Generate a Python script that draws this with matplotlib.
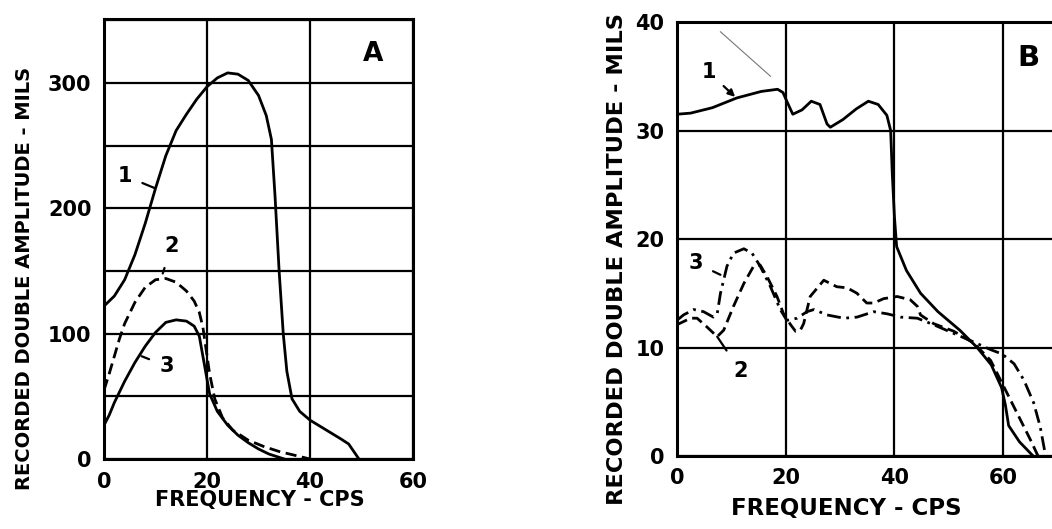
import matplotlib
matplotlib.use('Agg')
import matplotlib.pyplot as plt

# --- Panel A: amplitude (mils) vs frequency (cps) ---
a_freq_1 = [0, 2, 4, 6, 8, 10, 12, 14, 16, 18, 20, 22, 24, 26, 28, 30, 31.5, 32.5,
            33.2, 34, 34.8, 35.5, 36.5, 38, 40, 42, 44, 46, 47.5, 48.5, 49.5]
a_amp_1 = [122, 130, 143, 163, 188, 216, 242, 262, 275, 287, 297, 304, 308, 307, 302, 290, 274, 255,
           210, 150, 100, 70, 48, 38, 31, 26, 21, 16, 12, 6, 0]

a_freq_2 = [0, 1, 2, 3, 4, 6, 8, 10, 12, 14, 16, 17.5, 18.5, 19.2, 19.8, 20.5, 21.5,
            23, 25, 28, 31, 34, 37, 40]
a_amp_2 = [55, 68, 82, 96, 108, 125, 137, 143, 144, 141, 134, 126, 117, 105, 88, 68, 48,
           33, 23, 15, 10, 6, 3, 0]

a_freq_3 = [0, 1, 2, 4, 6, 8, 10, 12, 14, 16, 17.5, 18.5, 19.5, 20.5, 22, 24, 26, 28, 30, 32, 35]
a_amp_3 = [27, 35, 45, 62, 77, 90, 101, 109, 111, 110, 106, 98, 75, 52, 38, 27, 19, 13, 8, 4, 0]

# --- Panel B ---
b_freq_1 = [0, 2.5, 6.5, 11, 15.5, 18.5, 19.5, 20.2, 21.3, 23, 24.7, 26.3, 27.6, 28.2, 30.5, 33,
            35.2, 37, 38.6, 39.3, 39.6, 40, 40.4, 42.2, 44.8, 48, 52, 55.2, 57.8, 59.7, 60.4,
            61, 63, 65.5]
b_amp_1 = [31.5, 31.6, 32.1, 33.0, 33.6, 33.8, 33.5, 32.7, 31.5, 31.9, 32.7, 32.4, 30.6, 30.3, 31.0, 32.0,
           32.7, 32.4, 31.4, 30.0, 26.0, 22.0, 19.3, 17.1, 15.0, 13.3, 11.6, 10.0, 8.4, 6.3, 4.7,
           2.8, 1.3, 0]

b_freq_2 = [0, 2.5, 3.7, 5.5, 7.4, 8.6, 10.4, 12.3, 14.1, 15.3, 16.6, 18.4, 19.6, 20.9, 21.8, 22.7,
            23.3, 24.5, 27, 29.4, 31.3, 33.1, 34.9, 36.2, 38, 40.5, 42.9, 44.2, 44.8, 47.2, 50.9,
            54.6, 57.7, 59.5, 61.3, 63.2, 65, 66.4]
b_amp_2 = [12.1, 12.7, 12.7, 11.9, 11.0, 11.6, 13.8, 15.9, 17.5, 17.6, 16.5, 14.7, 13.1, 12.1, 11.5, 11.6,
           12.2, 14.7, 16.2, 15.6, 15.5, 15.0, 14.1, 14.1, 14.5, 14.7, 14.4, 13.8, 13.0, 12.2, 11.5,
           10.4, 8.8, 7.0, 5.2, 3.3, 1.5, 0]

b_freq_3 = [0, 1.2, 3.1, 4.9, 6.7, 7.4, 8, 9.2, 10.4, 12.3, 13.8, 15.3, 17.2, 19, 20.2, 22.1, 23.9,
            25.2, 27.6, 30.7, 33.1, 36.2, 38.7, 41.1, 44.2, 47.2, 50.9, 54.6, 57.7, 59.8, 62,
            63.8, 65.6, 66.8, 67.8]
b_amp_3 = [12.5, 13.0, 13.5, 13.3, 12.8, 13.1, 15.0, 17.5, 18.7, 19.1, 18.7, 17.5, 15.6, 13.5, 12.5, 12.7, 13.3,
           13.5, 13.0, 12.7, 12.8, 13.3, 13.1, 12.8, 12.7, 12.1, 11.3, 10.5, 9.8, 9.4, 8.5,
           7.0, 4.9, 2.7, 0]

# stray pen mark on the original scan
scratch_x = [8, 17.2]
scratch_y = [39.1, 35.0]

x_ticks = [0, 20, 40, 60]
a_yticks = [0, 100, 200, 300]
b_yticks = [0, 10, 20, 30, 40]
xlabel = 'FREQUENCY - CPS'
ylabel = 'RECORDED DOUBLE AMPLITUDE - MILS'

plt.rcParams['font.family'] = ['DejaVu Sans']
plt.rcParams['font.weight'] = 'bold'

fig = plt.figure(figsize=(10.52, 5.29), dpi=100)
ax_a = fig.add_axes([0.0989, 0.1323, 0.2937, 0.8318])
ax_b = fig.add_axes([0.6435, 0.138, 0.4135, 0.8204])

solid = dict(color='black', lw=2.0)
dashed = dict(color='black', lw=2.0, dashes=(4, 2))
dashdot = dict(color='black', lw=2.0, dashes=(5, 2, 1, 2))

# Panel A
ax_a.plot(a_freq_1, a_amp_1, **solid)
ax_a.plot(a_freq_2, a_amp_2, **dashed)
ax_a.plot(a_freq_3, a_amp_3, **solid)
ax_a.set_xlim(0, 60)
ax_a.set_ylim(0, 351)
ax_a.set_xticks(x_ticks)
ax_a.set_yticks(a_yticks)
ax_a.set_yticks(range(0, 351, 50), minor=True)
ax_a.grid(True, which='both', color='black', lw=1.6)

ax_a.annotate('1', xy=(9.9, 216), xytext=(4.0, 226), fontsize=15, ha='center', va='center',
              arrowprops=dict(arrowstyle='-', color='black', lw=1.6, shrinkA=6, shrinkB=0))
ax_a.annotate('2', xy=(11.4, 148), xytext=(13.1, 170), fontsize=15, ha='center', va='center',
              arrowprops=dict(arrowstyle='-', color='black', lw=1.6, shrinkA=7, shrinkB=0))
ax_a.annotate('3', xy=(7.3, 82), xytext=(12.2, 74), fontsize=15, ha='center', va='center',
              arrowprops=dict(arrowstyle='-', color='black', lw=1.6, shrinkA=6, shrinkB=0))
ax_a.text(52.2, 323, 'A', fontsize=19, ha='center', va='center')

# Panel B
ax_b.plot(b_freq_1, b_amp_1, **solid)
ax_b.plot(b_freq_2, b_amp_2, **dashed)
ax_b.plot(b_freq_3, b_amp_3, **dashdot)
ax_b.plot(scratch_x, scratch_y, color='#777777', lw=0.8)
ax_b.set_xlim(0, 80)
ax_b.set_ylim(0, 40)
ax_b.set_xticks(x_ticks)
ax_b.set_yticks(b_yticks)
ax_b.grid(True, color='black', lw=1.6)

ax_b.annotate('1', xy=(10.7, 33.1), xytext=(5.8, 35.4), fontsize=15, ha='center', va='center',
              arrowprops=dict(arrowstyle='-|>', mutation_scale=10, color='black', lw=1.6,
                              shrinkA=5, shrinkB=0))
ax_b.annotate('3', xy=(8.0, 16.7), xytext=(3.4, 17.8), fontsize=15, ha='center', va='center',
              arrowprops=dict(arrowstyle='-', color='black', lw=1.6, shrinkA=6, shrinkB=0))
ax_b.annotate('2', xy=(7.4, 11.0), xytext=(11.7, 7.8), fontsize=15, ha='center', va='center',
              arrowprops=dict(arrowstyle='-', color='black', lw=1.6, shrinkA=7, shrinkB=0))
ax_b.text(64.6, 36.7, 'B', fontsize=21, ha='center', va='center')

for ax in (ax_a, ax_b):
    ax.set_axisbelow(True)
    for sp in ax.spines.values():
        sp.set_linewidth(2.2)
    ax.tick_params(which='both', length=0, labelsize=15, pad=9)
    for lab in ax.get_xticklabels() + ax.get_yticklabels():
        lab.set_fontweight('bold')

ax_a.set_xlabel(xlabel, fontsize=15, fontweight='bold', va='center')
ax_a.xaxis.set_label_coords(0.505, -0.093)
ax_a.set_ylabel(ylabel, fontsize=14, fontweight='bold', va='center')
ax_a.yaxis.set_label_coords(-0.259, 0.411)

ax_b.set_xlabel(xlabel, fontsize=16.5, fontweight='bold', va='center')
ax_b.xaxis.set_label_coords(0.39, -0.12)
ax_b.set_ylabel(ylabel, fontsize=16.2, fontweight='bold', va='center')
ax_b.yaxis.set_label_coords(-0.137, 0.454)

fig.savefig('out.png', dpi=100, facecolor='white')
